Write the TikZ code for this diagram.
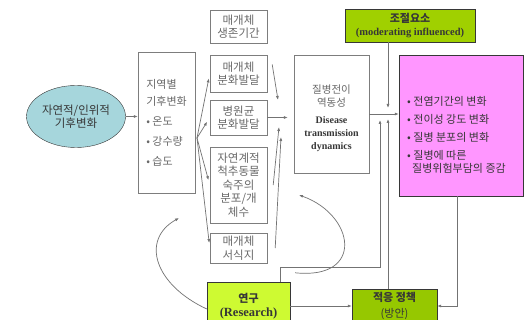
\documentclass[tikz,border=0pt]{standalone}
\usepackage{fontspec}
\setmainfont{Liberation Serif}
\newfontfamily\kr{Noto Sans CJK KR}
\usepackage{xcolor}
\usepackage{tikz}
\usetikzlibrary{shapes.geometric}
\usetikzlibrary{arrows.meta}

\definecolor{tealfill}{RGB}{166,214,220}
\definecolor{modgreen}{RGB}{160,208,0}
\definecolor{resgreen}{RGB}{206,250,50}
\definecolor{polgreen}{RGB}{150,200,0}
\definecolor{pinkfill}{RGB}{255,150,255}
\definecolor{boxline}{RGB}{125,125,125}
\definecolor{linegray}{RGB}{115,115,115}
\definecolor{txtgray}{RGB}{105,105,105}
\definecolor{txtdark}{RGB}{55,55,55}

\begin{document}
\begin{tikzpicture}[x=1pt,y=-1pt,
	box/.style={draw=boxline,fill=white,text=txtgray,align=center,inner sep=0pt,
		font=\kr\fontsize{11.5}{13.5}\selectfont},
	colbox/.style={box,draw=txtdark,text=txtdark},
	arr/.style={draw=linegray,line width=0.7pt,-{Latex[length=4pt,width=3pt]}}]
	\clip (0,0) rectangle (524,320);
	\fill[white] (0,0) rectangle (524,320);
	% left side
	\node[ellipse,draw=txtdark,fill=tealfill,text=txtdark,minimum width=99pt,minimum height=62pt,
		inner sep=0pt,align=center,font=\kr\fontsize{11.5}{13}\selectfont] (env) at (76,116.5)
		{자연적/인위적\\기후변화};
	\node[box,minimum width=57pt,minimum height=141pt,align=left,
		font=\kr\fontsize{11}{17}\selectfont] (clim) at (166.5,122.5)
		{지역별\\기후변화\\[3pt]• 온도\\[3pt]• 강수량\\[3pt]• 습도};
	% middle column
	\node[box,minimum width=57pt,minimum height=33pt] (m1) at (238.5,26.5) {매개체\\생존기간};
	\node[box,minimum width=57pt,minimum height=37pt] (m2) at (238.5,73.5) {매개체\\분화발달};
	\node[box,minimum width=57pt,minimum height=35pt] (m3) at (238.5,117.5) {병원균\\분화발달};
	\node[box,minimum width=57pt,minimum height=76pt] (m4) at (238.5,185) {자연계적\\척추동물\\숙주의\\분포/개\\체수};
	\node[box,minimum width=57pt,minimum height=30pt] (m5) at (238.5,248) {매개체\\서식지};
	% right side
	\node[box,minimum width=75pt,minimum height=118pt] (dis) at (331.5,114) {};
	\node[text=txtgray,align=center,inner sep=0pt,font=\kr\fontsize{10.5}{13}\selectfont] (distxt)
		at (331.5,118.5)
		{질병전이\\역동성\\[4pt]{\normalfont\color{txtdark}\fontsize{10}{13}\selectfont\bfseries Disease}\\
		{\normalfont\color{txtdark}\fontsize{10}{13}\selectfont\bfseries transmission}\\
		{\normalfont\color{txtdark}\fontsize{10}{13}\selectfont\bfseries dynamics}};
	\node[colbox,fill=modgreen,minimum width=130pt,minimum height=33pt,
		font=\kr\fontsize{11}{13}\selectfont] (mod) at (410,25.5)
		{\bfseries 조절요소\\{\normalfont\fontsize{10.5}{12}\selectfont\bfseries (moderating influenced)}};
	\node[colbox,fill=pinkfill,minimum width=124pt,minimum height=141pt] (harm) at (461,125.5) {};
	\node[text=txtdark,align=left,inner sep=0pt,anchor=west,
		font=\kr\fontsize{11}{12.5}\selectfont] (harmtxt) at (407,135)
		{• 전염기간의 변화\\[5.5pt]• 전이성 강도 변화\\[5.5pt]• 질병 분포의 변화\\[5.5pt]• 질병에 따른\\
		\hspace*{5pt}질병위험부담의 증감};
	\node[colbox,fill=resgreen,minimum width=83pt,minimum height=48pt,
		font=\kr\fontsize{11}{14}\selectfont] (res) at (248.5,306)
		{\bfseries 연구\\{\normalfont\fontsize{12.5}{14}\selectfont\bfseries (Research)}};
	\node[colbox,fill=polgreen,minimum width=85pt,minimum height=34pt,
		font=\kr\fontsize{11}{16}\selectfont] (pol) at (394.5,306)
		{\bfseries 적응 정책\\(방안)};
	% free ends
	\coordinate (fan) at (197,138);
	\coordinate (d1) at (278,100);
	\coordinate (d3) at (279,127);
	\coordinate (d4) at (281,137);
	\coordinate (jn1) at (388,108);
	\coordinate (jn2) at (388,119);
	\coordinate (jn3) at (380,120);
	\coordinate (rp) at (280,267);
	\coordinate (cv1) at (299,195);
	\coordinate (cv2) at (179,218);
	% connectors
	\draw[arr] (env.east) -- (env.east -| clim.west);
	\foreach \b in {m2,m3,m4,m5}
		\draw[arr,shorten >=5pt] (fan) -- (\b.west);
	\draw[arr] ([shift={(5,-9)}]m2.east) -- (d1);
	\draw[arr,shorten >=6pt] (m3.east) -- (m3.east -| dis.west);
	\draw[arr] ([xshift=6pt]m4.east) -- (d3);
	\draw[arr] ([xshift=8pt]m5.east) -- (d4);
	\draw[arr] (dis.east) -- (dis.east -| harm.west);
	\draw[arr] (mod.south -| jn1) -- (jn1);
	\draw[arr] (pol.north -| jn2) -- (jn2);
	\draw[arr] (res.north -| rp) |- (jn3 |- rp) -- (jn3);
	\draw[arr] (res.east) -- (pol.west);
	\draw[arr] (harm.south -| 457,0) |- (pol.east);
	\draw[arr] ([shift={(5,-9)}]res.north east) .. controls (365,280) and (355,215) .. (cv1);
	\draw[arr] ([yshift=-3pt]res.west) .. controls (155,285) and (140,240) .. (cv2);
\end{tikzpicture}
\end{document}
